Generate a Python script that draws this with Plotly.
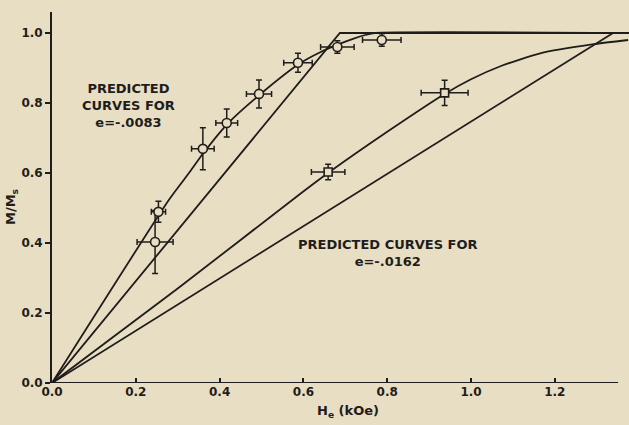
import plotly.graph_objects as go

# Predicted curves, e = -.0083
curveA_x = [0, 0.28, 0.33, 0.36, 0.42, 0.50, 0.59, 0.64, 0.68, 0.72, 0.75, 0.77, 1.377]
curveA_y = [0, 0.525, 0.605, 0.655, 0.742, 0.828, 0.912, 0.945, 0.966, 0.984, 0.995, 1.0, 1.0]
lineB_x = [0, 0.687, 1.377]
lineB_y = [0, 1.0, 1.0]
# Predicted curves, e = -.0162
curveC_x = [0, 0.30, 0.595, 0.662, 0.80, 0.937, 1.00, 1.07, 1.165, 1.293, 1.375]
curveC_y = [0, 0.27, 0.543, 0.603, 0.718, 0.826, 0.868, 0.905, 0.942, 0.968, 0.980]
lineD_x = [0, 1.339]
lineD_y = [0, 1.0]

# Measured points (circles)
circ_x = [0.246, 0.254, 0.36, 0.417, 0.494, 0.587, 0.681, 0.787]
circ_y = [0.403, 0.489, 0.669, 0.743, 0.826, 0.915, 0.960, 0.980]
circ_xerr = [0.043, 0.017, 0.027, 0.026, 0.030, 0.034, 0.040, 0.046]
circ_yerr = [0.090, 0.030, 0.060, 0.040, 0.040, 0.027, 0.018, 0.018]
# Measured points (squares)
sq_x = [0.659, 0.937]
sq_y = [0.603, 0.829]
sq_xerr = [0.040, 0.056]
sq_yerr = [0.022, 0.036]

bg = "#e8dec3"
ink = "#1f1d1b"
font = "DejaVu Sans"

fig = go.Figure()
for xs, ys in [(curveA_x, curveA_y), (lineB_x, lineB_y), (curveC_x, curveC_y), (lineD_x, lineD_y)]:
    fig.add_trace(go.Scatter(x=xs, y=ys, mode="lines", line=dict(color=ink, width=1.8, smoothing=0.6),
                             line_shape="spline" if len(xs) > 3 else "linear",
                             hoverinfo="skip", showlegend=False, cliponaxis=False))

fig.add_trace(go.Scatter(
    x=circ_x, y=circ_y, mode="markers",
    marker=dict(symbol="circle", size=9, color=bg, line=dict(color=ink, width=1.6)),
    error_x=dict(type="data", array=circ_xerr, color=ink, thickness=1.5, width=3),
    error_y=dict(type="data", array=circ_yerr, color=ink, thickness=1.5, width=3),
    showlegend=False, cliponaxis=False))
fig.add_trace(go.Scatter(
    x=sq_x, y=sq_y, mode="markers",
    marker=dict(symbol="square", size=8, color=bg, line=dict(color=ink, width=1.6)),
    error_x=dict(type="data", array=sq_xerr, color=ink, thickness=1.5, width=3),
    error_y=dict(type="data", array=sq_yerr, color=ink, thickness=1.5, width=3),
    showlegend=False, cliponaxis=False))

# x-axis line (shorter than plotting area)
fig.add_shape(type="line", xref="x", yref="y", x0=0, x1=1.351, y0=0, y1=0,
              line=dict(color=ink, width=1.8))

tickfont = dict(family=font, size=12, color=ink, weight="bold")
lblfont = dict(family=font, size=13, color=ink, weight="bold")

fig.update_layout(
    width=629, height=425,
    margin=dict(l=52, r=0, t=12, b=42, autoexpand=False),
    paper_bgcolor=bg, plot_bgcolor=bg,
    font=dict(family=font, size=13, color=ink),
    xaxis=dict(range=[0, 1.377], tickvals=[0, 0.2, 0.4, 0.6, 0.8, 1.0, 1.2],
               ticktext=["0.0", "0.2", "0.4", "0.6", "0.8", "1.0", "1.2"], tickfont=tickfont,
               ticks="inside", ticklen=5, tickcolor=ink, tickwidth=1.5, automargin=False,
               showgrid=False, zeroline=False, showline=False),
    yaxis=dict(range=[0, 1.06], tickvals=[0, 0.2, 0.4, 0.6, 0.8, 1.0],
               ticktext=["0.0", "0.2", "0.4", "0.6", "0.8", "1.0"], tickfont=tickfont,
               ticks="outside", ticklen=5, tickcolor=ink, tickwidth=1.5, automargin=False,
               showgrid=False, zeroline=False, showline=True, linecolor=ink, linewidth=1.8),
    annotations=[
        dict(text="PREDICTED<br>CURVES FOR<br>e=-.0083", xref="paper", yref="paper",
             x=(128 - 52) / 577, y=(383 - 106) / 371, showarrow=False,
             xanchor="center", yanchor="middle", font=lblfont, align="center"),
        dict(text="PREDICTED CURVES FOR<br>e=-.0162", xref="paper", yref="paper",
             x=(388 - 52) / 577, y=(383 - 253) / 371, showarrow=False,
             xanchor="center", yanchor="middle", font=lblfont, align="center"),
        dict(text="M/M<sub>s</sub>", xref="paper", yref="paper", textangle=-90,
             x=(12 - 52) / 577, y=(383 - 207) / 371, showarrow=False,
             xanchor="center", yanchor="middle", font=lblfont),
        dict(text="H<sub>e</sub> (kOe)", xref="paper", yref="paper",
             x=(348 - 52) / 577, y=(383 - 412) / 371, showarrow=False,
             xanchor="center", yanchor="middle", font=lblfont),
    ],
)

fig.write_html("out.html", config={"displayModeBar": False},
               post_script="document.body.style.margin='0';document.body.style.background='%s';" % bg)
